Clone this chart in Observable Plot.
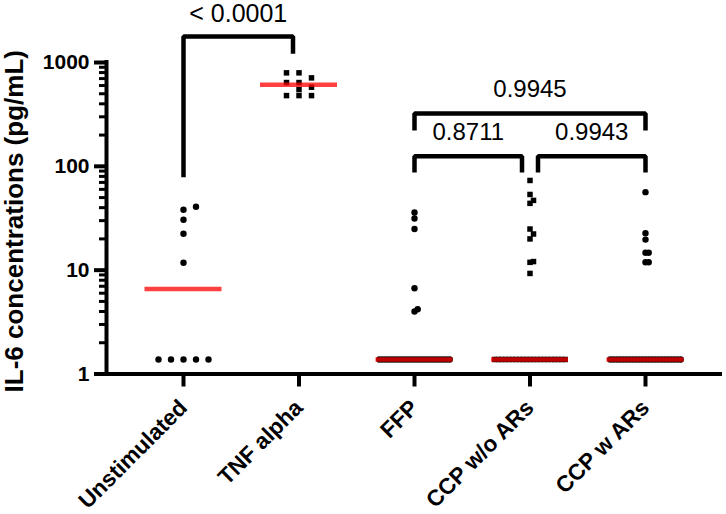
<!DOCTYPE html>
<html>
<head>
<meta charset="utf-8">
<script src="https://cdn.jsdelivr.net/npm/d3@7"></script>
<script src="https://cdn.jsdelivr.net/npm/@observablehq/plot@0.6"></script>
<style>
  html, body { margin: 0; padding: 0; background: #fff; }
  svg { display: block; }
</style>
</head>
<body>
<div id="chart"></div>
<script>
// ---------- data (IL-6, pg/mL) ----------
const groups = ["Unstimulated", "TNF alpha", "FFP", "CCP w/o ARs", "CCP w ARs"];
const groupSymbols = ["circle", "square", "circle", "square", "circle"];

const unstimulated = [1.38, 1.38, 1.38, 1.38, 1.38, 11.8, 22.4, 30.6, 38.2, 40.8];
const tnfAlpha = [480, 480, 480, 549, 578, 641, 641, 711, 795, 795];
const ffp = [
  1.38, 1.38, 1.38, 1.38, 1.38, 1.38, 1.38, 1.38, 1.38, 1.38, 1.38, 1.38,
  1.38, 1.38, 1.38, 1.38, 1.38, 1.38, 1.38, 1.38, 1.38, 1.38, 1.38,
  4.0, 4.2, 6.7, 24.9, 31.5, 35.9
];
const ccpWithoutARs = [
  1.38, 1.38, 1.38, 1.38, 1.38, 1.38, 1.38, 1.38, 1.38, 1.38, 1.38,
  1.38, 1.38, 1.38, 1.38, 1.38, 1.38, 1.38, 1.38, 1.38, 1.38,
  9.3, 11.9, 12.1, 20.0, 22.3, 24.9, 44.0, 47.0, 53.6, 73.1
];
const ccpWithARs = [
  1.38, 1.38, 1.38, 1.38, 1.38, 1.38, 1.38, 1.38, 1.38, 1.38, 1.38, 1.38,
  1.38, 1.38, 1.38, 1.38, 1.38, 1.38, 1.38, 1.38, 1.38, 1.38, 1.38,
  11.9, 11.9, 14.7, 14.7, 19.7, 22.7, 56.4
];
const series = [unstimulated, tnfAlpha, ffp, ccpWithoutARs, ccpWithARs];

const yTicks = [1, 10, 100, 1000];
const yMinorTicks = [2, 3, 4, 5, 6, 7, 8, 9, 20, 30, 40, 50, 60, 70, 80, 90, 200, 300, 400, 500, 600, 700, 800, 900];
const yLabel = "IL-6 concentrations (pg/mL)";

// multiple comparisons (p values)
const comparisons = [
  { a: "Unstimulated", b: "TNF alpha", p: "< 0.0001" },
  { a: "FFP", b: "CCP w ARs", p: "0.9945" },
  { a: "FFP", b: "CCP w/o ARs", p: "0.8711" },
  { a: "CCP w/o ARs", b: "CCP w ARs", p: "0.9943" }
];
// bracket layout (y levels in data units, x nudges in px)
const bracketLayout = [
  { top: 1781, legA: 78.6, legB: 1213, text: 2933, nudgeA: 0, nudgeB: -6, size: 25 },
  { top: 322, legA: 221, legB: 221, text: 550, nudgeA: 0, nudgeB: 0, size: 24 },
  { top: 125, legA: 87.3, legB: 87.3, text: 213, nudgeA: 0, nudgeB: -8, size: 24 },
  { top: 125, legA: 87.3, legB: 87.3, text: 213, nudgeA: 8, nudgeB: 0, size: 24 }
];

// ---------- layout ----------
const W = 726, H = 514;
const mL = 106, mR = 4, mT = 62, mB = 140.5;
const pxPerGroup = (W - mL - mR) / (groups.length + 1/3);  // 115.5
const halfWidthPx = 38.5;     // median line half width
const maxRowPx = 70.4;        // max scatter width (centre to centre)
const tolDecades = 5.5 / 103.83;

// Prism-like column scatter
const points = [];
series.forEach((vals, gi) => {
  const sorted = vals.slice().sort((a, b) => a - b);
  const counts = d3.rollup(sorted, v => v.length, d => d);
  const maxRow = d3.max(counts.values());
  const spacingPx = Math.min(12.5, maxRowPx / Math.max(1, maxRow - 1));
  const placed = new Map();
  for (const v of sorted) {
    const lv = Math.log10(v);
    for (let j = 0; j < 200; j++) {
      const k = j === 0 ? 0 : (j % 2 === 1 ? (j + 1) / 2 : -j / 2);
      const col = placed.get(k) || [];
      if (!col.some(u => Math.abs(u - lv) < tolDecades)) {
        col.push(lv); placed.set(k, col);
        points.push({ x: gi + k * spacingPx / pxPerGroup, v, symbol: groupSymbols[gi] });
        break;
      }
    }
  }
});

const medians = series.map((vals, gi) => ({
  x1: gi - halfWidthPx / pxPerGroup,
  x2: gi + halfWidthPx / pxPerGroup,
  m: d3.median(vals)
}));

const bracketPts = [];
const bracketText = [];
comparisons.forEach((c, i) => {
  const L = bracketLayout[i];
  const xa = groups.indexOf(c.a) + L.nudgeA / pxPerGroup;
  const xb = groups.indexOf(c.b) + L.nudgeB / pxPerGroup;
  bracketPts.push(
    { id: i, x: xa, y: L.legA },
    { id: i, x: xa, y: L.top },
    { id: i, x: xb, y: L.top },
    { id: i, x: xb, y: L.legB }
  );
  bracketText.push({ x: (xa + xb) / 2, y: L.text, p: c.p, size: L.size });
});

const font = "'Liberation Sans', Arial, Helvetica, sans-serif";

const chart = Plot.plot({
  width: W,
  height: H,
  marginLeft: mL,
  marginRight: mR,
  marginTop: mT,
  marginBottom: mB,
  style: { fontFamily: font, color: "#000", background: "#fff", overflow: "visible" },
  x: { type: "linear", domain: [-2/3, groups.length - 1 + 2/3], axis: null, label: null },
  y: { type: "log", domain: [1, 1000], axis: null, label: null },
  marks: [
    Plot.axisY({ ticks: yMinorTicks, tickSize: 7, tickFormat: () => "", strokeWidth: 3, label: null }),
    Plot.axisY({ ticks: yTicks, tickSize: 12, tickPadding: 5, tickFormat: d => String(d),
      fontSize: 21, fontWeight: "bold", strokeWidth: 4, label: null }),
    Plot.axisX({ ticks: d3.range(groups.length), tickFormat: i => groups[i], tickSize: 13,
      tickPadding: 17, tickRotate: -45, fontSize: 22.5, fontWeight: "bold", strokeWidth: 4, label: null }),
    Plot.ruleX([-2/3], { stroke: "#000", strokeWidth: 4, strokeLinecap: "square" }),
    Plot.ruleY([1], { stroke: "#000", strokeWidth: 4 }),
    Plot.text([yLabel], { frameAnchor: "left", text: d => d, rotate: -90, dx: -92, dy: 3,
      textAnchor: "middle", lineAnchor: "middle",
      fontSize: 26, fontWeight: "bold", fill: "#000" }),
    Plot.dot(points.filter(d => d.symbol === "circle"), { x: "x", y: "v", r: 3.2, fill: "#000", symbol: "circle" }),
    Plot.dot(points.filter(d => d.symbol === "square"), { x: "x", y: "v", r: 3.1, fill: "#000", symbol: "square" }),
    Plot.ruleY(medians, { x1: "x1", x2: "x2", y: "m", stroke: "#ff0000", strokeOpacity: 0.75, strokeWidth: 4.5 }),
    Plot.line(bracketPts, { x: "x", y: "y", z: "id", stroke: "#000", strokeWidth: 4.5,
      strokeLinejoin: "miter", strokeLinecap: "butt" }),
    Plot.text(bracketText, { x: "x", y: "y", text: "p", fontSize: d => d.size, fill: "#000",
      textAnchor: "middle", lineAnchor: "middle" })
  ]
});

document.getElementById("chart").appendChild(chart);
</script>
</body>
</html>
